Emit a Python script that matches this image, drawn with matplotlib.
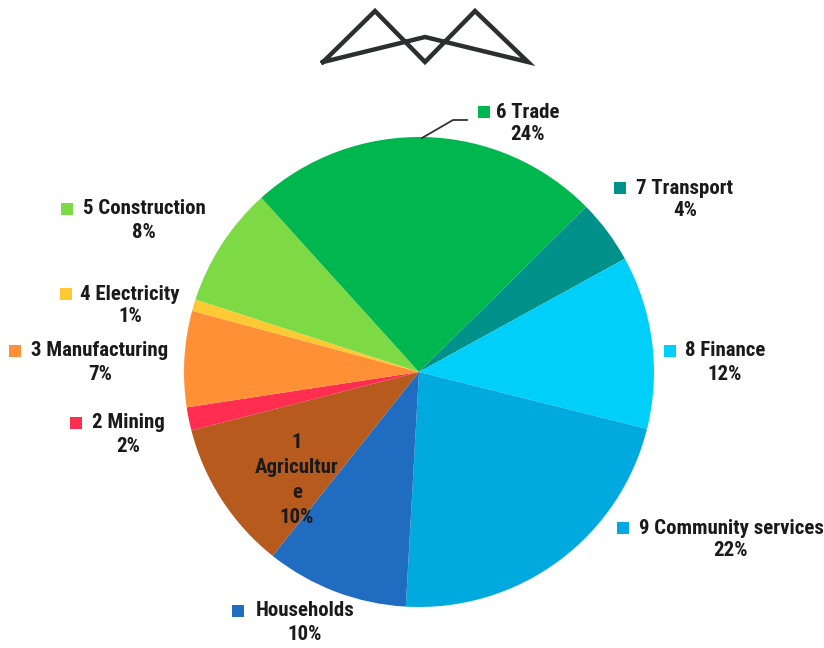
import matplotlib
matplotlib.use('Agg')
import matplotlib.pyplot as plt
from matplotlib import font_manager

# sector shares of value added (%)
sectors = ['1 Agriculture', '2 Mining', '3 Manufacturing', '4 Electricity',
           '5 Construction', '6 Trade', '7 Transport', '8 Finance',
           '9 Community services', 'Households']
shares = [10.3, 1.6, 6.6, 0.8, 8.3, 24.3, 4.4, 11.9, 22.0, 9.8]
colors = ['#B65A1E', '#FF2D4F', '#FF9035', '#FFC934', '#7DDA44',
          '#00B74F', '#00918A', '#00CFFA', '#00AADE', '#1F6CC1']

# narrow bold face if there is one, otherwise plain sans at a smaller size
names = {f.name for f in font_manager.fontManager.ttflist}
fam, fsize = 'Liberation Sans', 12.6
for cand in ['Liberation Sans Narrow', 'Roboto Condensed', 'Arial Narrow',
             'Open Sans Condensed', 'Noto Sans Condensed']:
    if cand in names:
        fam, fsize = cand, 15
        break

W, H = 824, 648
fig = plt.figure(figsize=(W / 100, H / 100), dpi=100)
ax = fig.add_axes([0, 0, 1, 1])
ax.axis('off')

def py(y):  # pixel row -> data y
    return H - y

ax.pie(shares, colors=colors, center=(419, py(372)), radius=235,
       startangle=231.5, counterclock=False,
       wedgeprops=dict(linewidth=0))
ax.set_xlim(0, W)
ax.set_ylim(0, H)
ax.set_aspect('equal')

# logo
lx = [323, 375, 425, 475, 528, 425, 323]
ly = [62, 11, 62, 11, 62, 37, 62]
ax.plot(lx, [py(v) for v in ly], color='#2B2F2F', lw=3.2,
        solid_joinstyle='miter')

# leader line for Trade
ax.plot([422, 453, 467], [py(138), py(120), py(120)], color='#333333', lw=1.3)

# label layout: (text centre x, first line y, square x)
layout = {
    '2 Mining': (128, 423, 76),
    '3 Manufacturing': (100, 351, 15),
    '4 Electricity': (130, 294, 66),
    '5 Construction': (144, 209, 67),
    '6 Trade': (528, 112, 484),
    '7 Transport': (685, 188, 620),
    '8 Finance': (725, 351, 670),
    '9 Community services': (731, 528, 623),
    'Households': (305, 611, 238),
}
font = dict(family=fam, weight='bold', size=fsize, color='#1a1a1a')
for name, val, col in zip(sectors, shares, colors):
    pct = f'{round(val):d}%'
    if name in layout:
        cx, y1, sx = layout[name]
        ax.text(cx, py(y1), name, ha='center', va='center', **font)
        ax.text(cx, py(y1 + 23), pct, ha='center', va='center', **font)
        ax.scatter([sx], [py(y1)], marker='s', s=80, color=col, linewidths=0)
    else:
        lines = ['1', 'Agricultur', 'e', pct]
        for i, t in enumerate(lines):
            ax.text(297, py(442 + 25.3 * i), t, ha='center', va='center', **font)

fig.savefig('out.png', dpi=100)
